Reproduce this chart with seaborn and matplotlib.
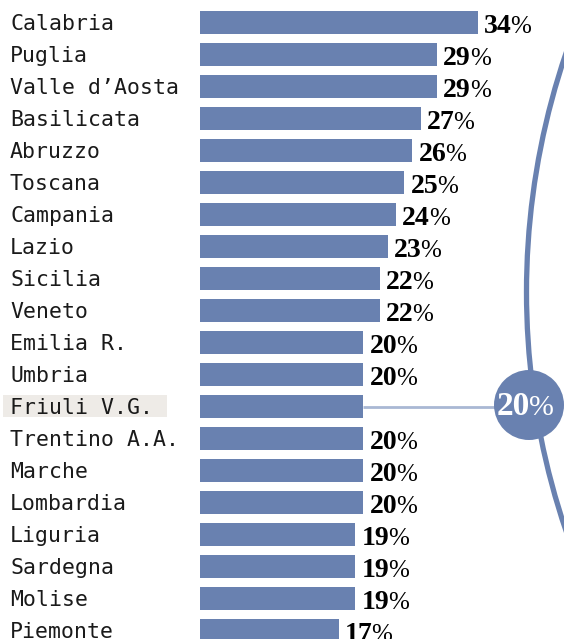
import matplotlib
matplotlib.use("Agg")
import matplotlib.pyplot as plt
import matplotlib.transforms as mtransforms
from matplotlib.patches import Rectangle, Circle, Arc
import seaborn as sns
import pandas as pd

regions = ["Calabria", "Puglia", "Valle d\u2019Aosta", "Basilicata", "Abruzzo", "Toscana",
           "Campania", "Lazio", "Sicilia", "Veneto", "Emilia R.", "Umbria", "Friuli V.G.",
           "Trentino A.A.", "Marche", "Lombardia", "Liguria", "Sardegna", "Molise", "Piemonte"]
values = [34, 29, 29, 27, 26, 25, 24, 23, 22, 22, 20, 20, 20, 20, 20, 20, 19, 19, 19, 17]
highlight = "Friuli V.G."

BAR = "#6981B0"
LINE_LIGHT = "#A9B8D4"
HILITE_BG = "#EEEBE7"

sns.set_theme(style="white")
W, H, DPI = 564, 639, 100
fig = plt.figure(figsize=(W / DPI, H / DPI), dpi=DPI)
fig.patch.set_facecolor("white")

x0 = 199.5
ax = fig.add_axes([x0 / W, 0, (W - x0) / W, 1])
df = pd.DataFrame({"region": regions, "value": values})
sns.barplot(data=df, x="value", y="region", orient="h", color=BAR, saturation=1,
            width=0.72, linewidth=0, edgecolor="none", ax=ax)
pxu = 8.19
ax.set_xlim(0, (W - x0) / pxu)
ax.set_ylim((H - 22.5) / 32, -22.5 / 32)
ax.axis("off")

lab_tr = mtransforms.blended_transform_factory(fig.transFigure, ax.transData)
mono = "DejaVu Sans Mono"
serif = "Liberation Serif"
fs_num = 20

for i, (r, v) in enumerate(zip(regions, values)):
    if r == highlight:
        ax.add_patch(Rectangle((3 / W, i - 0.36), (167 - 3) / W, 0.69,
                               transform=lab_tr, facecolor=HILITE_BG, edgecolor="none",
                               clip_on=False, zorder=0))
    ax.text(10 / W, i + 0.24, r, transform=lab_tr, fontfamily=mono, fontsize=15.5,
            color="#1a1a1a", va="baseline", ha="left", clip_on=False)
    if r == highlight:
        continue
    s = str(v)
    t1 = mtransforms.offset_copy(ax.transData, fig=fig, x=4.5, y=0, units="points")
    ax.text(v, i + 0.33, s, transform=t1, fontfamily=serif, fontweight="bold",
            fontsize=fs_num, color="black", va="baseline", ha="left", clip_on=False)
    t2 = mtransforms.offset_copy(ax.transData, fig=fig, x=4.5 + len(s) * 0.5 * fs_num - 1.0,
                                 y=0, units="points")
    ax.text(v, i + 0.33, "%", transform=t2, fontfamily=serif, fontweight="normal",
            fontsize=fs_num * 0.9, color="black", va="baseline", ha="left", clip_on=False)

# connector + circle + arc
hi = regions.index(highlight)
hv = values[hi]
ov = fig.add_axes([0, 0, 1, 1], facecolor="none")
ov.set_xlim(0, W)
ov.set_ylim(H, 0)
ov.axis("off")

disp = ax.transData.transform((hv, hi))
bar_end_px = disp[0]
row_px = H - disp[1]
cx, cy, cr = 529, row_px - 1.5, 35

ov.plot([bar_end_px, cx], [row_px, row_px], color=LINE_LIGHT, lw=2, zorder=1,
        solid_capstyle="butt")
R = 742
ov.add_patch(Arc((cx + R - 2.5, 292), 2 * R, 2 * R, theta1=150, theta2=210,
                 color=BAR, lw=3.8, zorder=2))
ov.add_patch(Circle((cx, cy), cr, facecolor=BAR, edgecolor="none", zorder=3))
fsc = 24
x_start = cx - 32
ov.text(x_start, cy + 10, str(hv), fontfamily=serif, fontweight="bold", fontsize=fsc,
        color="white", va="baseline", ha="left", zorder=4)
ov.text(x_start + len(str(hv)) * 0.5 * fsc * DPI / 72 - 1, cy + 10, "%", fontfamily=serif,
        fontweight="normal", fontsize=fsc * 0.9, color="white", va="baseline", ha="left",
        zorder=4)

fig.savefig("out.png", dpi=DPI)
